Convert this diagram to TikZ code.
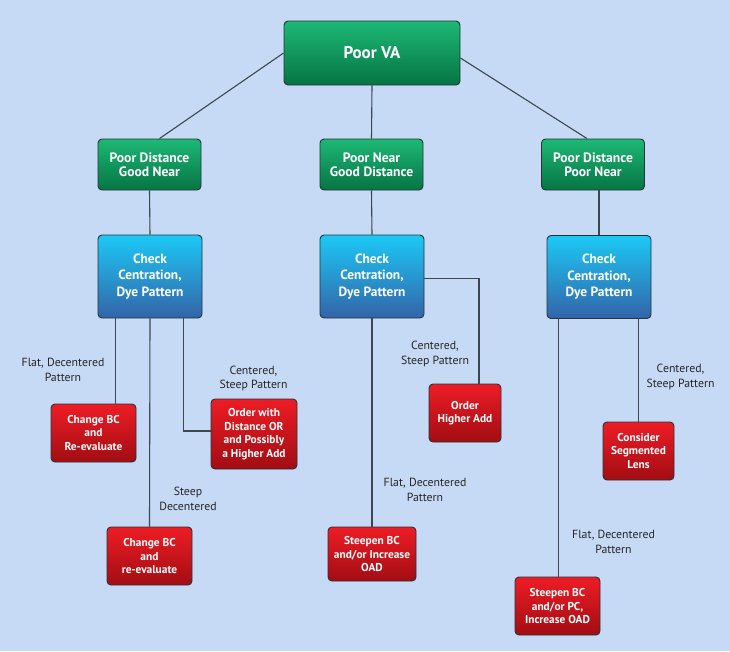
\documentclass[tikz,border=0pt]{standalone}
\usepackage{fontspec}
\setmainfont{PT Sans}
\usepackage{tikz}
\usepackage{xcolor}
\usetikzlibrary{calc}
\definecolor{backcolor}{HTML}{C6DAF6}
\definecolor{greentop}{HTML}{1DB876}
\definecolor{greenbot}{HTML}{067443}
\definecolor{bluetop}{HTML}{1CC9F6}
\definecolor{bluebot}{HTML}{3364A8}
\definecolor{redtop}{HTML}{EE1C25}
\definecolor{redbot}{HTML}{A20D13}
\definecolor{edgecolor}{HTML}{26343A}
\colorlet{linecolor}{edgecolor!90!white}
\colorlet{labelcolor}{black!85}
\tikzstyle{basebox} = [
    draw=edgecolor,
    line width=0.9pt,
    rectangle,
    rounded corners=4pt,
    inner sep=0pt,
    align=center,
    text=white
    ]
\tikzstyle{rootbox} = [basebox,
    top color=greentop, bottom color=greenbot,
    minimum width=176pt, minimum height=64pt,
    font=\fontsize{17}{20}\selectfont\bfseries
    ]
\tikzstyle{casebox} = [basebox,
    top color=greentop, bottom color=greenbot,
    minimum width=103pt, minimum height=51pt,
    font=\fontsize{13.6}{14}\selectfont\bfseries
    ]
\tikzstyle{checkbox} = [basebox,
    top color=bluetop, bottom color=bluebot,
    minimum width=104pt, minimum height=83pt,
    font=\fontsize{13.4}{16.5}\selectfont\bfseries
    ]
\tikzstyle{actbox} = [basebox,
    top color=redtop, bottom color=redbot,
    minimum height=58pt,
    font=\fontsize{11.4}{13.5}\selectfont\bfseries
    ]
\tikzstyle{branch} = [
    text=labelcolor, align=center, inner sep=0pt,
    font=\fontsize{11.8}{14.5}\selectfont
    ]
\tikzstyle{link} = [draw=linecolor, line width=1.1pt]

\begin{document}
\begin{tikzpicture}[x=1pt,y=-1pt]
\fill[backcolor] (0,0) rectangle (730,651);
\useasboundingbox (0,0) rectangle (730,651);

% top level
\node [rootbox] (va) at (372,53) {Poor VA};

% three cases
\node [casebox] (pdgn) at (149.5,164.5) {Poor Distance\\Good Near};
\node [casebox] (pngd) at (371.5,164.5) {Poor Near\\Good Distance};
\node [casebox] (pdpn) at (593,164.5) {Poor Distance\\Poor Near};

% checks
\node [checkbox] (chka) at (150,276.5) {Check\\Centration,\\Dye Pattern};
\node [checkbox] (chkb) at (372,276.5) {Check\\Centration,\\Dye Pattern};
\node [checkbox] (chkc) at (599,277) {Check\\Centration,\\Dye Pattern};

% actions
\node [actbox, minimum width=85pt] (cbca) at (93.5,433) {Change BC\\and\\Re-evaluate};
\node [actbox, minimum width=86pt, minimum height=70pt] (ordd) at (254,434) {Order with\\Distance OR\\and Possibly\\a Higher Add};
\node [actbox, minimum width=85pt] (cbcb) at (149.5,556) {Change BC\\and\\re-evaluate};
\node [actbox, minimum width=72pt] (ordh) at (465,413) {Order\\Higher Add};
\node [actbox, minimum width=88pt, minimum height=54pt] (stpa) at (372,554) {Steepen BC\\and/or Increase\\OAD};
\node [actbox, minimum width=71pt] (segl) at (638.5,451) {Consider\\Segmented\\Lens};
\node [actbox, minimum width=85pt] (stpb) at (557.5,606) {Steepen BC\\and/or PC,\\Increase OAD};

% branch labels
\node [branch] (lfa) at (63,370) {Flat, Decentered\\Pattern};
\node [branch] (lca) at (253.5,378.5) {Centered,\\Steep Pattern};
\node [branch] (lsd) at (188,499) {Steep\\Decentered};
\node [branch] (lcb) at (435,354) {Centered,\\Steep Pattern};
\node [branch] (lfb) at (425,490) {Flat, Decentered\\Pattern};
\node [branch] (lcc) at (680.5,377) {Centered,\\Steep Pattern};
\node [branch] (lfc) at (613.5,542) {Flat, Decentered\\Pattern};

% connectors
\draw [link] (va.west) -- ($(pdgn.north)+(10,0)$);
\draw [link] (va.south) -- (pngd.north);
\draw [link] ($(va.east)+(0,5)$) -- ($(pdpn.north)+(-6,0)$);
\draw [link] (pdgn.south) -- (chka.north);
\draw [link] (pngd.south) -- (chkb.north);
\draw [link] ($(pdpn.south)+(6,0)$) -- ($(pdpn.south)+(6,45)$);

\draw [link] ($(chka.south west)+(18,0)$) coordinate (fa) -- (fa |- cbca.north);
\draw [link] (chka.south) -- (cbcb.north);
\draw [link] ($(chka.south east)+(-19,0)$) coordinate (ca) -- ($(ca |- ordd.west)+(0,-3)$) -- ($(ordd.west)+(0,-3)$);

\draw [link] (chkb.south) -- (stpa.north);
\draw [link] ($(chkb.east)+(0,2)$) -| ($(ordh.north)+(14,0)$);

\draw [link] ($(chkc.south west)+(12,0)$) coordinate (fc) -- (fc |- stpb.north);
\draw [link] (segl.north |- chkc.south) -- (segl.north);
\end{tikzpicture}
\end{document}
